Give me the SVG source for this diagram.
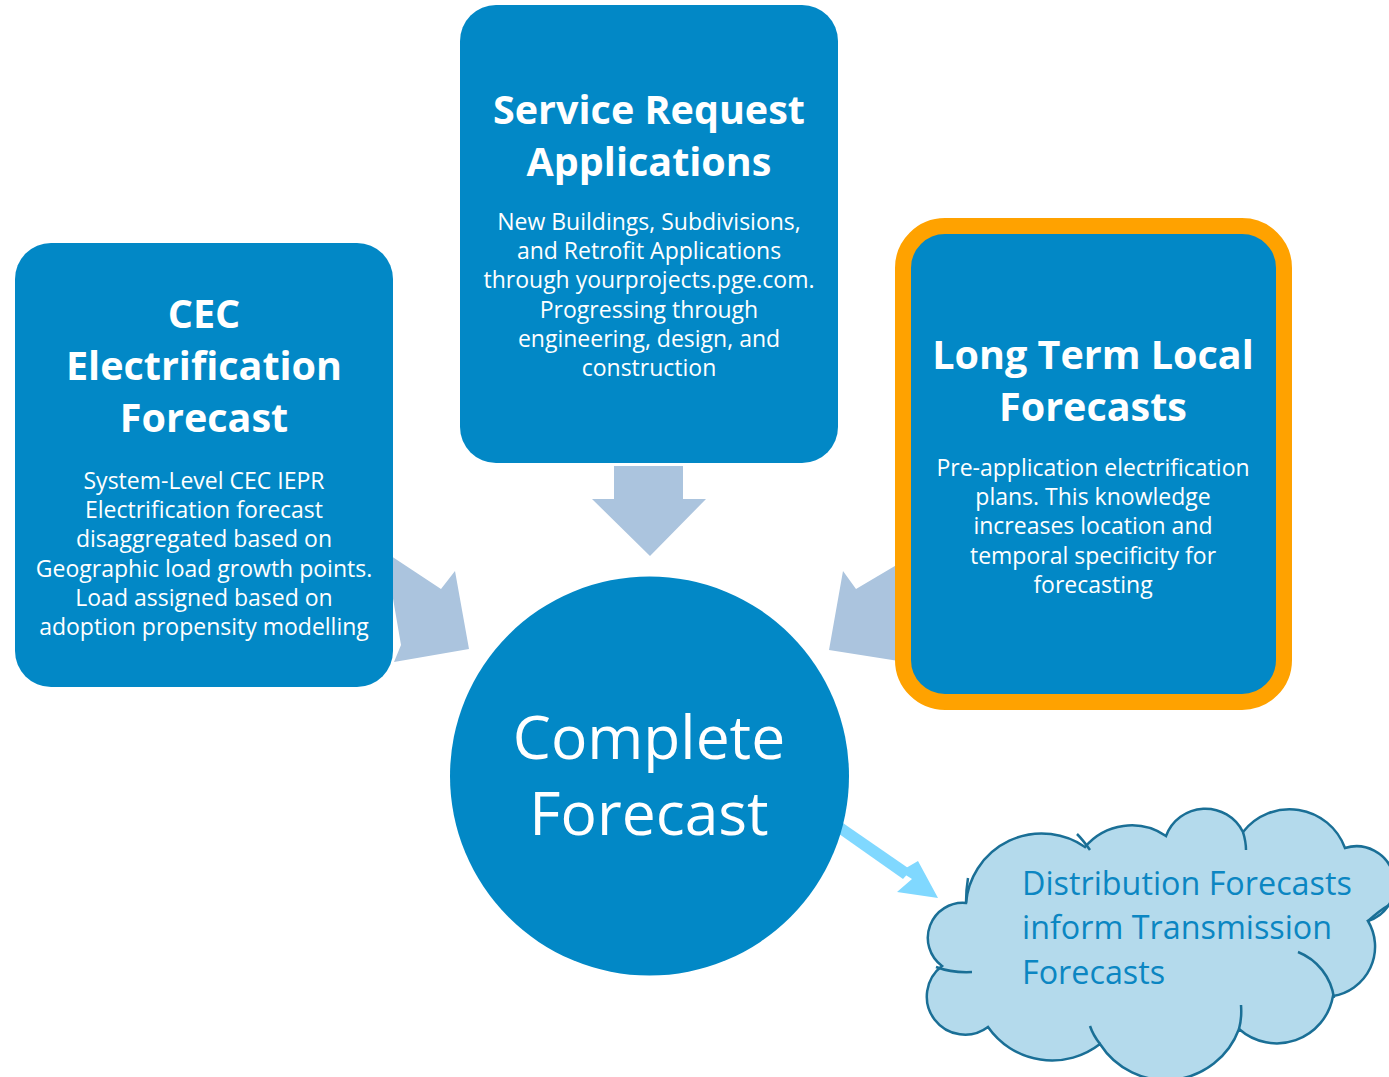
<svg xmlns="http://www.w3.org/2000/svg" width="1389" height="1077" viewBox="0 0 1389 1077">
<style>
.box{fill:#0288C6}
.arrow{fill:#ABC4DE}
.t{font-family:"Open Sans","Noto Sans",sans-serif;fill:#ffffff;text-anchor:middle}
.title{font-size:39.5px;font-weight:bold}
.body{font-size:23px}
.big{font-size:60.5px}
.cloudtxt{font-family:"Open Sans","Noto Sans",sans-serif;font-size:32.3px;fill:#0B86C2}
.cl{fill:none;stroke:#1A6F96;stroke-width:2.5}
</style>
<rect width="1389" height="1077" fill="#ffffff"/>
<g id="connectors">
  <polygon class="arrow" points="385,552 441,589 455,571 469,649 394,662 401,645"/>
  <polygon class="arrow" points="614,466 683,466 683,499 706,499 650,556 592,499 614,499"/>
  <polygon class="arrow" points="905,560 856,589 843,571 829,650 905,662"/>
  <polygon fill="#80D8FF" points="835,823 841,834 912,879 897,892 938,898 918,861 906,868 833,824"/>
  <polygon fill="#80D8FF" points="832,829 840,821 911,870 903,879"/>
</g>
<g id="node-cec">
  <rect class="box" x="15" y="243" width="378" height="444" rx="36"/>
  <text class="t title" x="204" y="328">CEC</text>
  <text class="t title" x="204" y="380">Electrification</text>
  <text class="t title" x="204" y="432">Forecast</text>
  <text class="t body" x="204" y="489">System-Level CEC IEPR</text>
  <text class="t body" x="204" y="518">Electrification forecast</text>
  <text class="t body" x="204" y="547">disaggregated based on</text>
  <text class="t body" x="204" y="577">Geographic load growth points.</text>
  <text class="t body" x="204" y="606">Load assigned based on</text>
  <text class="t body" x="204" y="635">adoption propensity modelling</text>
</g>
<g id="node-service">
  <rect class="box" x="460" y="5" width="378" height="458" rx="36"/>
  <text class="t title" x="649" y="124">Service Request</text>
  <text class="t title" x="649" y="176">Applications</text>
  <text class="t body" x="649" y="230">New Buildings, Subdivisions,</text>
  <text class="t body" x="649" y="259">and Retrofit Applications</text>
  <text class="t body" x="649" y="288">through yourprojects.pge.com.</text>
  <text class="t body" x="649" y="318">Progressing through</text>
  <text class="t body" x="649" y="347">engineering, design, and</text>
  <text class="t body" x="649" y="376">construction</text>
</g>
<g id="node-longterm">
  <rect x="903" y="226" width="381" height="476" rx="42" fill="#0288C6" stroke="#FFA200" stroke-width="16"/>
  <text class="t title" x="1093" y="369">Long Term Local</text>
  <text class="t title" x="1093" y="421">Forecasts</text>
  <text class="t body" x="1093" y="476">Pre-application electrification</text>
  <text class="t body" x="1093" y="505">plans. This knowledge</text>
  <text class="t body" x="1093" y="534">increases location and</text>
  <text class="t body" x="1093" y="564">temporal specificity for</text>
  <text class="t body" x="1093" y="593">forecasting</text>
</g>
<g id="node-complete">
  <circle cx="649.5" cy="776" r="199.5" fill="#0288C6"/>
  <text class="t big" x="649" y="759">Complete</text>
  <text class="t big" x="649" y="835">Forecast</text>
</g>
<g id="node-cloud">
  <path d="M966,903 A35,35 0 0 0 942,966 A38,38 0 0 0 988,1027 A78,78 0 0 0 1100,1044 A78,78 0 0 0 1239,1029 A57,57 0 0 0 1333,996 A50,50 0 0 0 1368,921 A38,38 0 0 0 1345,848 A59,59 0 0 0 1243,832 A42,42 0 0 0 1166,836 A61,61 0 0 0 1085,847 A76,76 0 0 0 966,903 Z" fill="#B4DAEC" stroke="#1A6F96" stroke-width="2.5"/>
  <path class="cl" d="M936,967 Q952,973 972,972"/>
  <path class="cl" d="M1100,1044 Q1093,1035 1090,1026"/>
  <path class="cl" d="M1239,1029 Q1242,1018 1241,1005"/>
  <path class="cl" d="M1298,952 A58,58 0 0 1 1334,998"/>
  <path class="cl" d="M1368,921 Q1380,910 1389,905"/>
  <path class="cl" d="M1243,832 Q1246,842 1246,850"/>
  <path class="cl" d="M1090,850 Q1083,840 1077,834"/>
  <path class="cl" d="M966,903 Q966,890 968,878"/>
  <text class="cloudtxt" x="1022" y="895">Distribution Forecasts</text>
  <text class="cloudtxt" x="1022" y="939">inform Transmission</text>
  <text class="cloudtxt" x="1022" y="984">Forecasts</text>
</g>
</svg>
